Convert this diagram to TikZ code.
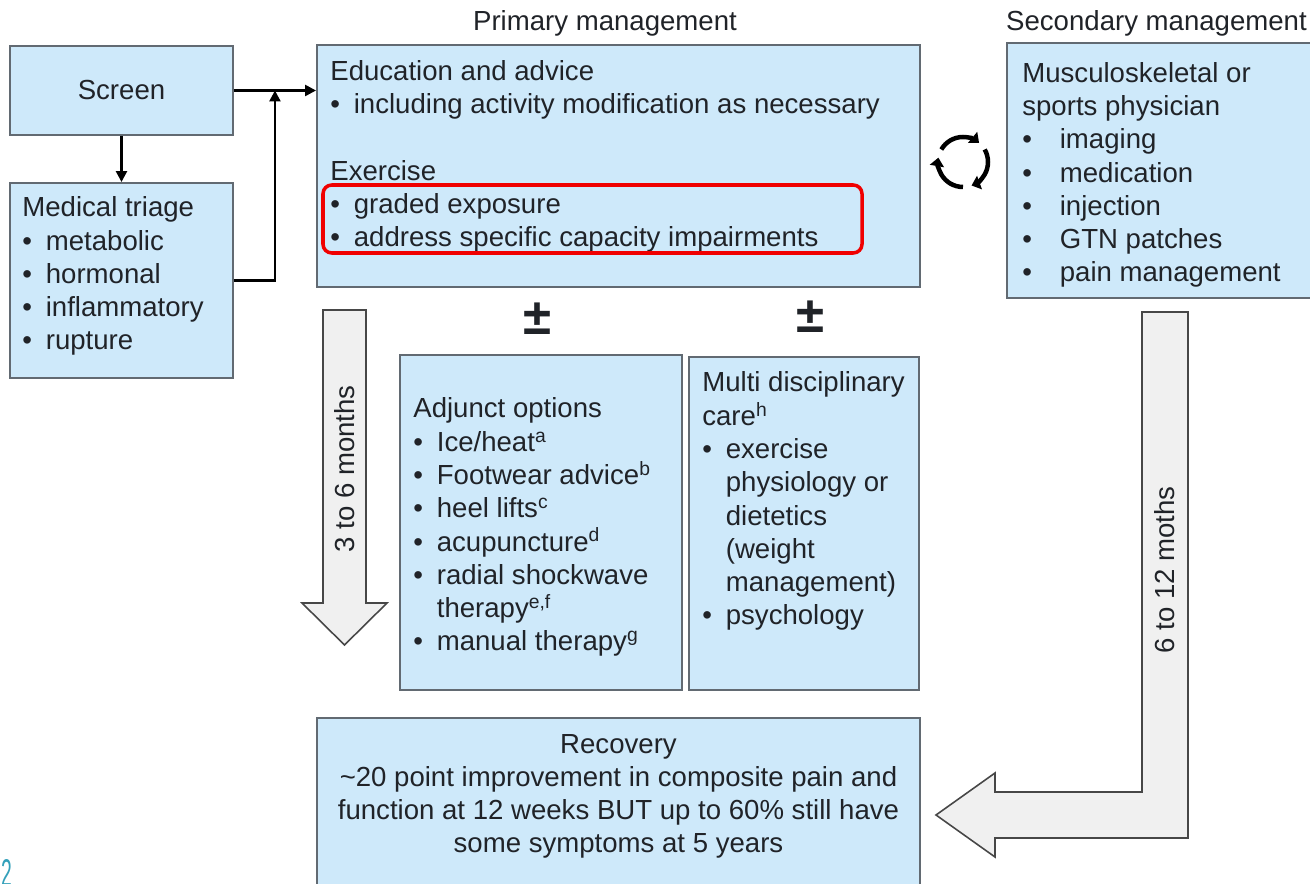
\documentclass[tikz,border=0pt]{standalone}
\usepackage{fontspec}
\setmainfont{Liberation Sans}
\usetikzlibrary{arrows.meta,positioning}
\definecolor{tendInk}{RGB}{32,35,40}
\definecolor{tendFill}{RGB}{206,233,250}
\definecolor{tendEdge}{RGB}{98,106,114}
\definecolor{tendShade}{RGB}{240,240,240}
\definecolor{tendRed}{RGB}{240,0,0}
\definecolor{tendTeal}{RGB}{52,160,186}
\newcommand{\bul}{\makebox[.47cm][l]{\textbullet}}
\newcommand{\bulgap}{\hspace*{.47cm}}
\newcommand{\bulwide}{\makebox[.75cm][l]{\textbullet}}
\tikzset{
  tbody/.style={font=\fontsize{15.7}{18.95}\selectfont, text=tendInk,
    align=left, inner sep=0pt},
  ttitle/.style={font=\fontsize{15.7}{18.95}\selectfont, text=tendInk,
    inner sep=0pt},
  tbox/.style={draw=tendEdge, fill=tendFill, line width=1.1pt, inner sep=0pt},
  tflow/.style={-{Triangle[length=2.2mm,width=2.2mm]}, line width=1.4pt,
    draw=black},
  tblock/.style={draw=black!72, fill=tendShade, line width=.9pt,
    line join=miter}
}

\begin{document}
\begin{tikzpicture}[
  plusminus/.style={font=\bfseries\fontsize{29}{29}\selectfont, text=tendInk,
    inner sep=0pt},
  focus/.style={draw=tendRed, line width=2pt, rounded corners=5pt,
    inner sep=0pt},
  roundarrow/.style={-{Triangle[length=1.7mm,width=2.8mm]},
    line width=.9mm, draw=black}
]
\path[use as bounding box] (0,0) rectangle (26.2,-17.68);

\node[ttitle, anchor=base] (primhead) at (12.1,-.62) {Primary management};
\node[ttitle, anchor=base] (sechead) at (23.13,-.62) {Secondary management};

\node[tbox, tbody, minimum width=4.46cm, minimum height=1.78cm] (screen)
  at (2.43,-1.81) {Screen};
\node[tbox, minimum width=4.46cm, minimum height=3.9cm] (triage)
  at (2.43,-5.61) {};
\node[tbody, anchor=base west] (triagetxt) at (.44,-7.0)
  {Medical triage\\\bul metabolic\\\bul hormonal\\\bul inflammatory\\\bul rupture};

\node[tbox, minimum width=12.06cm, minimum height=4.84cm] (prim)
  at (12.37,-3.32) {};
\node[tbody, anchor=base west] (primtxt) at (6.6,-4.94)
  {Education and advice\\\bul including activity modification as necessary\\[18.95pt]
   Exercise\\\bul graded exposure\\\bul address specific capacity impairments};
\node[focus, minimum width=10.78cm, minimum height=1.36cm] (graded)
  at (11.85,-4.38) {};

\node[tbox, minimum width=6.26cm, minimum height=5.1cm] (sec)
  at (23.27,-3.41) {};
\node[tbody, anchor=base west] (sectxt) at (20.44,-5.64)
  {Musculoskeletal or\\sports physician\\\bulwide imaging\\\bulwide medication\\
   \bulwide injection\\\bulwide GTN patches\\\bulwide pain management};

\coordinate (loop) at (19.26,-3.24);
\foreach \a in {150,30,-90}
  \draw[roundarrow] ([shift={(\a:.5)}]loop) arc[start angle=\a, delta angle=-100, radius=.5];

\node[plusminus] (pm1) at (10.74,-6.38) {±};
\node[plusminus] (pm2) at (16.2,-6.34) {±};

\node[tbox, minimum width=5.64cm, minimum height=6.7cm] (adj)
  at (10.82,-10.45) {};
\node[tbody, anchor=base west] (adjtxt) at (8.26,-13.02)
  {Adjunct options\\\bul Ice/heat\textsuperscript{a}\\\bul Footwear advice\textsuperscript{b}\\
   \bul heel lifts\textsuperscript{c}\\\bul acupuncture\textsuperscript{d}\\
   \bul radial shockwave\\\bulgap therapy\textsuperscript{e,f}\\
   \bul manual therapy\textsuperscript{g}};

\node[tbox, minimum width=4.6cm, minimum height=6.66cm] (multi)
  at (16.08,-10.47) {};
\node[tbody, anchor=base west] (multitxt) at (14.04,-12.5)
  {Multi disciplinary\\care\textsuperscript{h}\\\bul exercise\\\bulgap physiology or\\
   \bulgap dietetics\\\bulgap (weight\\\bulgap management)\\\bul psychology};

\node[tbox, minimum width=12.06cm, minimum height=3.64cm] (recov)
  at (12.37,-16.18) {};
\node[tbody, align=center, anchor=base] (recovtxt) at (12.37,-17.06)
  {Recovery\\\textasciitilde20 point improvement in composite pain and\\
   function at 12 weeks BUT up to 60\% still have\\some symptoms at 5 years};

\draw[tflow] (screen) -- (triage);
\draw[tflow] (screen.east) -- (screen.east -| prim.west);
\coordinate (merge) at ([xshift=.82cm]screen.east);
\draw[tflow] (triage.east) -| (merge);

\draw[tblock] (6.46,-6.2) -- (7.32,-6.2) -- (7.32,-12.06) -- (7.74,-12.06)
  -- (6.89,-12.9) -- (6.04,-12.06) -- (6.46,-12.06) -- cycle;
\node[tbody, rotate=90] (shortterm) at (6.89,-9.38) {3 to 6 months};

\draw[tblock] (22.84,-6.24) -- (23.76,-6.24) -- (23.76,-16.76) -- (19.9,-16.76)
  -- (19.9,-17.14) -- (18.72,-16.3) -- (19.9,-15.46) -- (19.9,-15.84)
  -- (22.84,-15.84) -- cycle;
\node[tbody, rotate=90] (longterm) at (23.3,-11.4) {6 to 12 moths};

\node[font=\fontsize{22}{22}\selectfont, text=tendTeal, xscale=.5,
  anchor=south west, inner sep=0pt] (slideno) at (.02,-17.74) {2};
\end{tikzpicture}
\end{document}
